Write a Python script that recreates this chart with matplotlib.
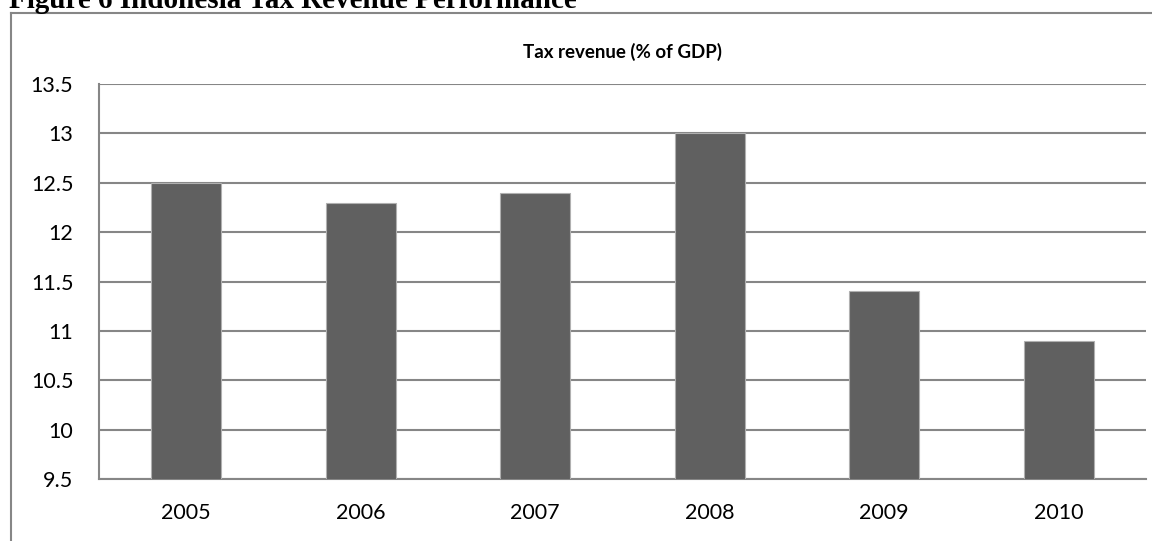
import matplotlib
matplotlib.use("Agg")
import matplotlib.pyplot as plt
from matplotlib.lines import Line2D

# data
years = ["2005", "2006", "2007", "2008", "2009", "2010"]
tax_revenue = [12.5, 12.3, 12.4, 13.0, 11.4, 10.9]
y_ticks = [9.5, 10, 10.5, 11, 11.5, 12, 12.5, 13, 13.5]
y_labels = ["9.5", "10", "10.5", "11", "11.5", "12", "12.5", "13", "13.5"]

W, H = 1152, 541
fig = plt.figure(figsize=(W / 100, H / 100), dpi=100)
sans = ["Lato", "DejaVu Sans"]
grey = "#868686"

# plot area in pixels: x 99..1146, y 84..479
ax = fig.add_axes([99 / W, 1 - 479 / H, (1146 - 99) / W, (479 - 84) / H])
x = range(len(years))
ax.bar(x, tax_revenue, width=0.4, color="#606060", edgecolor="#b0b0b0",
       linewidth=0.8, zorder=3)
ax.set_xlim(-0.5, len(years) - 0.5)
ax.set_ylim(9.5, 13.5)
ax.set_yticks(y_ticks)
ax.set_yticklabels(y_labels, fontfamily=sans, fontsize=15.5)
ax.set_xticks(list(x))
ax.set_xticklabels(years, fontfamily=sans, fontsize=15.5)
ax.tick_params(axis="both", length=0, colors="black")
ax.tick_params(axis="y", pad=18.5)
ax.tick_params(axis="x", pad=17)
ax.yaxis.grid(True, color=grey, linewidth=1.5, zorder=0)
for side in ["top", "right"]:
    ax.spines[side].set_visible(False)
for side in ["left", "bottom"]:
    ax.spines[side].set_color(grey)
    ax.spines[side].set_linewidth(1.5)

# chart title
fig.text((99 + 1146) / 2 / W, 1 - 52 / H, "Tax revenue (% of GDP)",
         ha="center", va="center", fontfamily=sans, fontweight="bold",
         fontsize=13.5)

# outer chart frame (runs off the right and bottom of the image)
fig.add_artist(Line2D([11 / W, 11 / W], [0, 1 - 13 / H], color=grey,
                      linewidth=1.5, transform=fig.transFigure))
fig.add_artist(Line2D([11 / W, 1], [1 - 13 / H, 1 - 13 / H], color=grey,
                      linewidth=1.5, transform=fig.transFigure))

# document caption, cut off at the top
fig.text(9 / W, 1 - 8 / H, "Figure 6 Indonesia Tax Revenue Performance",
         ha="left", va="baseline", fontfamily=["Liberation Serif"],
         fontweight="bold", fontsize=21)

fig.savefig("out.png", dpi=100)
